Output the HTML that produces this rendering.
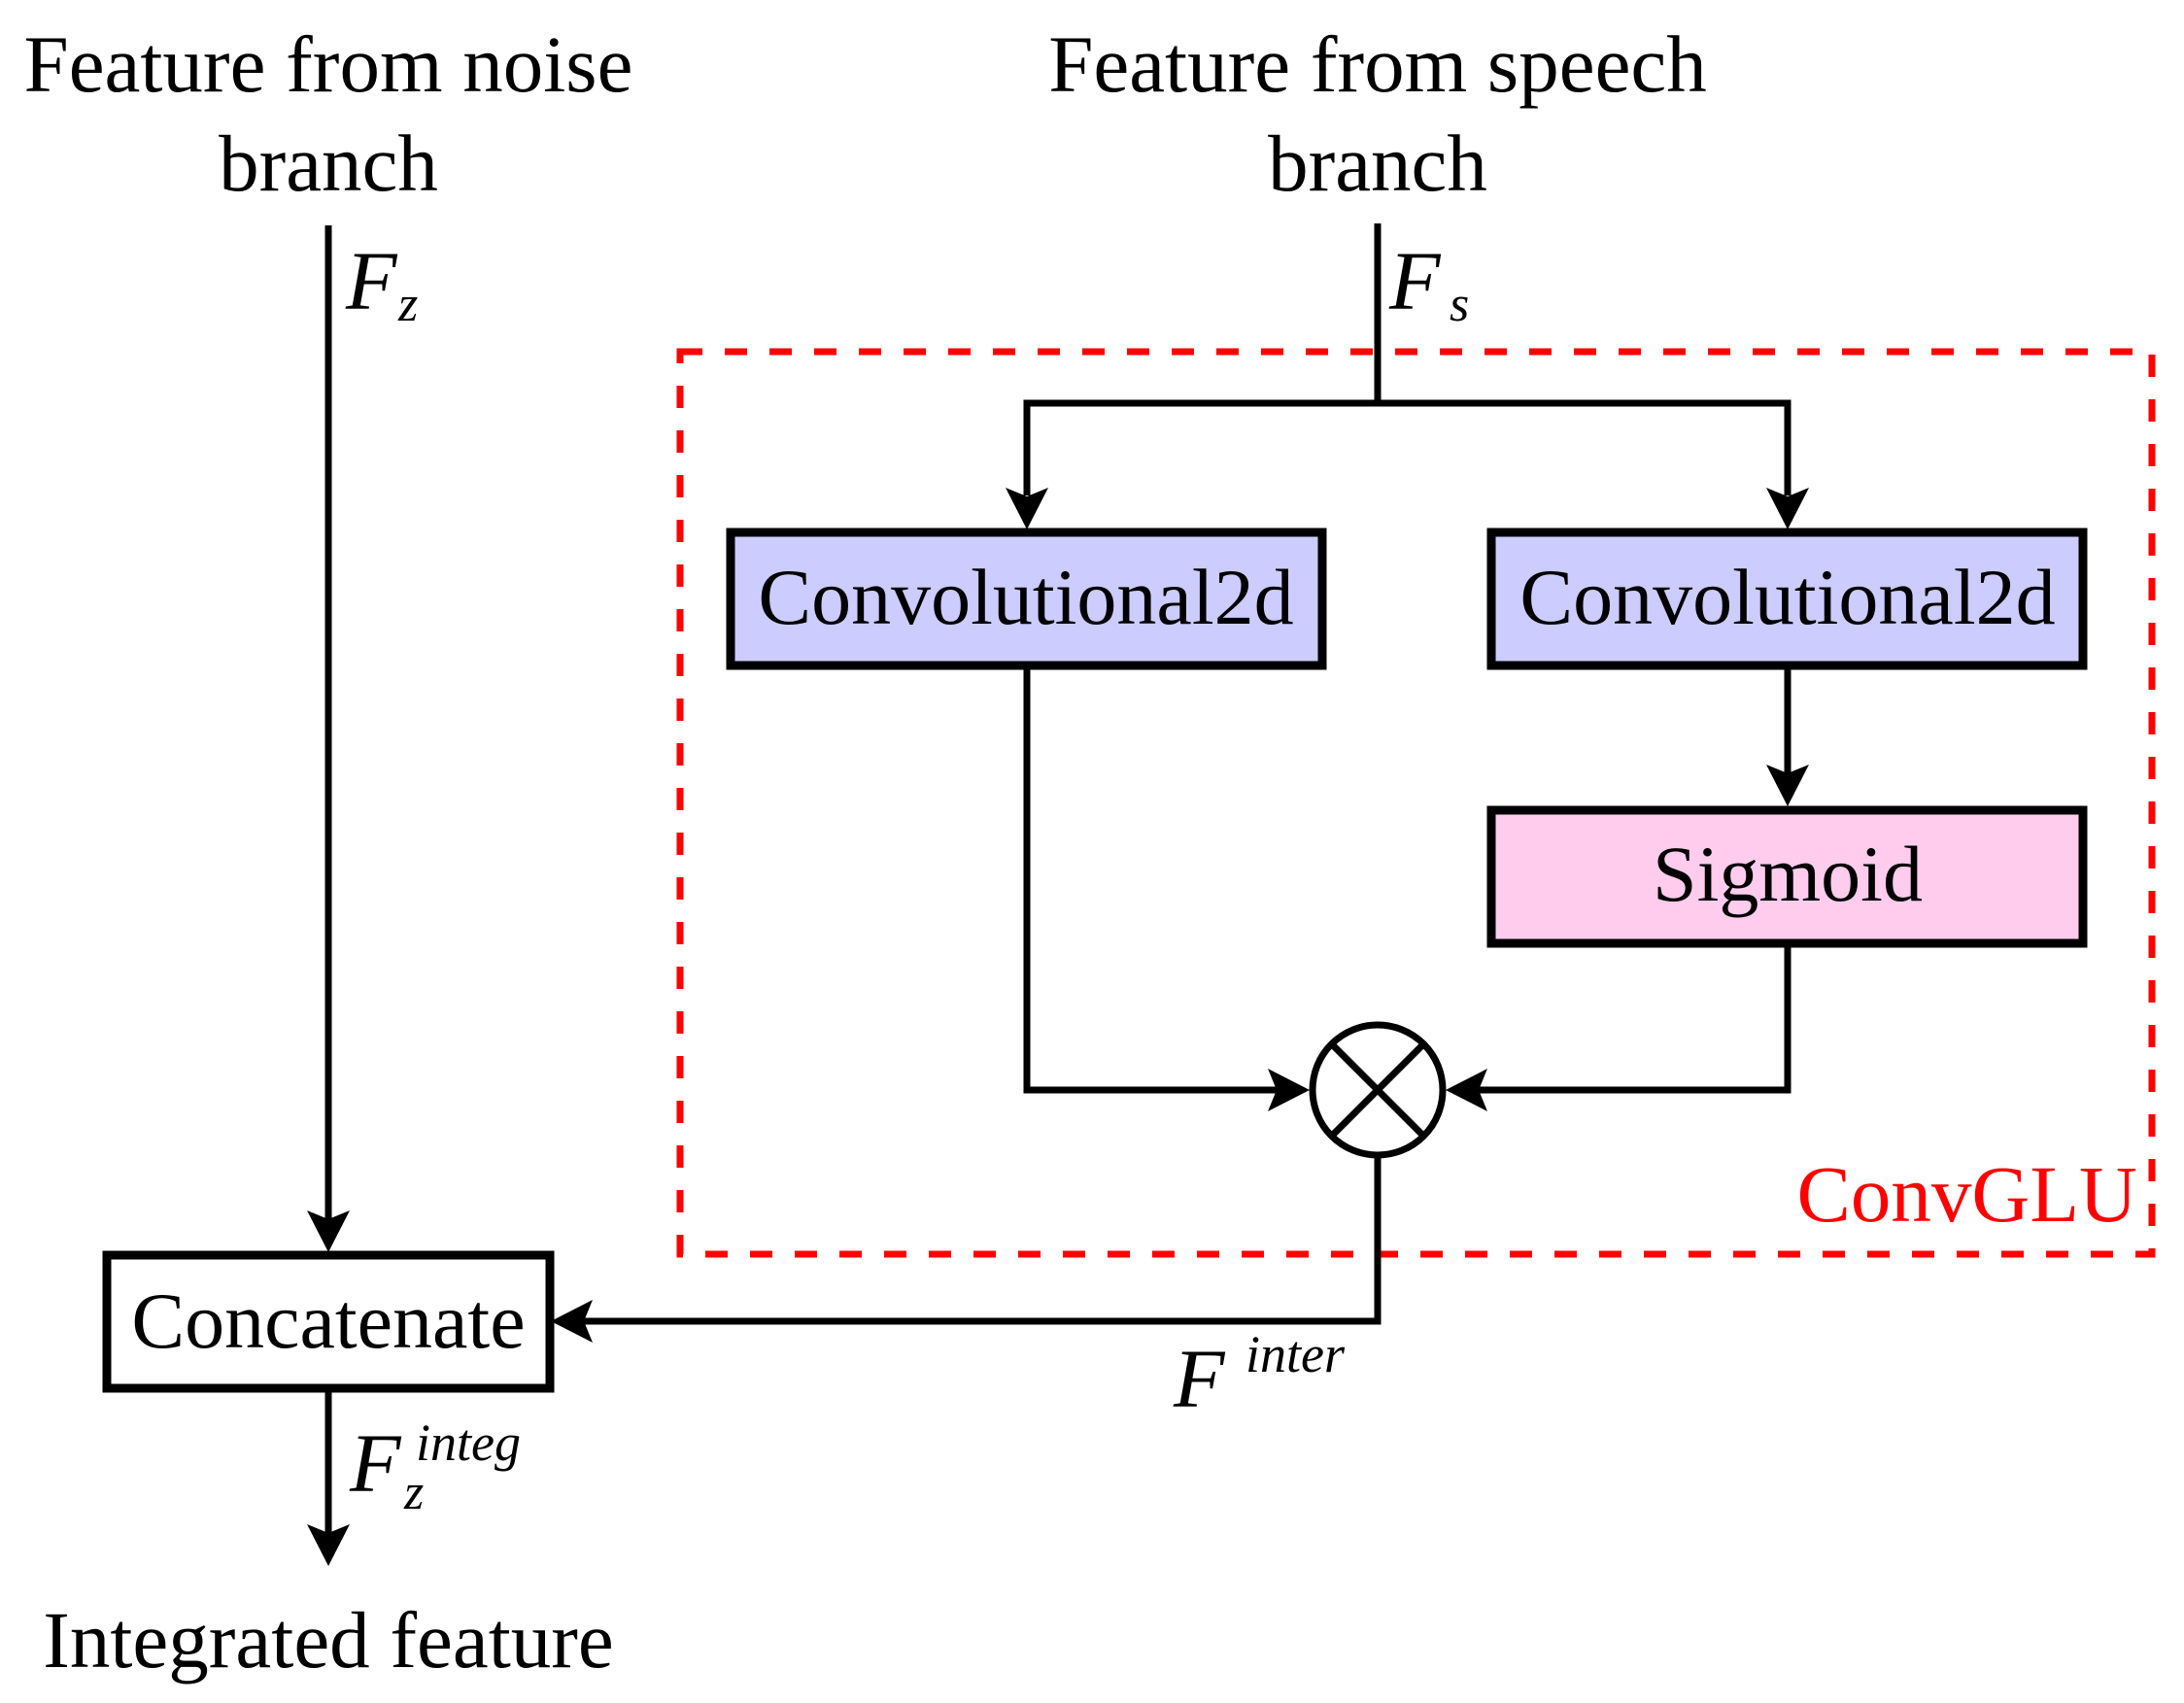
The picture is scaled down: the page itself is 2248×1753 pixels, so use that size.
<!DOCTYPE html>
<html><head><meta charset="utf-8"><style>
html,body{margin:0;padding:0;background:#fff;}
svg{display:block;}
text{font-family:"Liberation Serif",serif;}
</style></head><body>
<svg width="2248" height="1753" viewBox="0 0 2248 1753" xmlns="http://www.w3.org/2000/svg">
<defs>
<path id="ah" d="M0,0 L-43,-22 L-34,0 L-43,22 Z" fill="#000"/>
</defs>
<text x="338" y="94" font-size="83" text-anchor="middle">Feature from noise</text>
<text x="338" y="196" font-size="83" text-anchor="middle">branch</text>
<text x="1418" y="94" font-size="83" text-anchor="middle">Feature from speech</text>
<text x="1418" y="196" font-size="83" text-anchor="middle">branch</text>

<rect x="700" y="362" width="1515" height="929" fill="none" stroke="#ff0000" stroke-width="7" stroke-dasharray="23 23"/>
<text x="2200" y="1257" font-size="83" fill="#ff0000" text-anchor="end">ConvGLU</text>

<g stroke="#000" stroke-width="7" fill="none">
<line x1="338" y1="232" x2="338" y2="1260"/>
<line x1="1418" y1="230" x2="1418" y2="415"/>
<polyline points="1057,510 1057,415 1840,415 1840,510"/>
<line x1="1840" y1="686" x2="1840" y2="800"/>
<polyline points="1057,686 1057,1122 1320,1122"/>
<polyline points="1840,970 1840,1122 1515,1122"/>
<polyline points="1418,1189 1418,1360 600,1360"/>
<line x1="338" y1="1430" x2="338" y2="1580"/>
</g>

<use href="#ah" transform="translate(1057,545) rotate(90)"/>
<use href="#ah" transform="translate(1840,545) rotate(90)"/>
<use href="#ah" transform="translate(1840,830) rotate(90)"/>
<use href="#ah" transform="translate(1348,1122)"/>
<use href="#ah" transform="translate(1488,1122) rotate(180)"/>
<use href="#ah" transform="translate(567,1360) rotate(180)"/>
<use href="#ah" transform="translate(338,1289) rotate(90)"/>
<use href="#ah" transform="translate(338,1612) rotate(90)"/>

<rect x="752" y="548" width="609" height="137" fill="#ccccff" stroke="#000" stroke-width="9"/>
<text x="1056" y="642" font-size="82" text-anchor="middle">Convolutional2d</text>
<rect x="1535" y="548" width="609" height="137" fill="#ccccff" stroke="#000" stroke-width="9"/>
<text x="1840" y="642" font-size="82" text-anchor="middle">Convolutional2d</text>
<rect x="1535" y="834" width="609" height="137" fill="#ffccee" stroke="#000" stroke-width="9"/>
<text x="1840" y="927" font-size="82" text-anchor="middle">Sigmoid</text>
<rect x="110" y="1292" width="456" height="137" fill="#fff" stroke="#000" stroke-width="9"/>
<text x="338" y="1387" font-size="82" text-anchor="middle">Concatenate</text>

<circle cx="1418" cy="1122" r="67" fill="#fff" stroke="#000" stroke-width="7"/>
<line x1="1371" y1="1075" x2="1465" y2="1169" stroke="#000" stroke-width="7"/>
<line x1="1465" y1="1075" x2="1371" y2="1169" stroke="#000" stroke-width="7"/>

<text x="356" y="318" font-size="86" font-style="italic">F</text>
<text x="410" y="330" font-size="52" font-style="italic">z</text>
<text x="1430" y="318" font-size="86" font-style="italic">F</text>
<text x="1492" y="330" font-size="52" font-style="italic">s</text>
<text x="1208" y="1448" font-size="86" font-style="italic">F</text>
<text x="1282" y="1412" font-size="54" font-style="italic">inter</text>
<text x="360" y="1535" font-size="86" font-style="italic">F</text>
<text x="428" y="1503" font-size="54" font-style="italic">integ</text>
<text x="416" y="1553" font-size="52" font-style="italic">z</text>

<text x="338" y="1716" font-size="83" text-anchor="middle">Integrated feature</text>
</svg>
</body></html>
